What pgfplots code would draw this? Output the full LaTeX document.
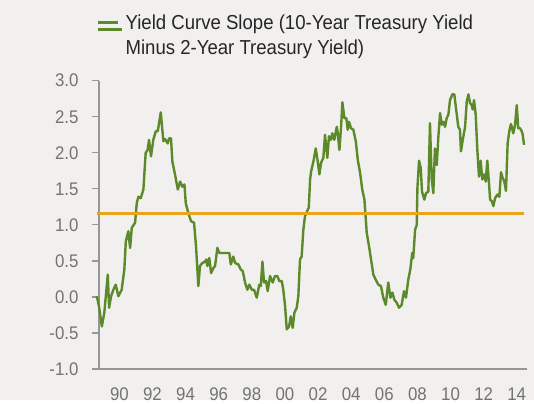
\documentclass[border=0pt]{standalone}
\usepackage{fontspec}
\setmainfont{Liberation Sans}[FakeStretch=0.92]
\usepackage{pgfplots}
\pgfplotsset{compat=1.18}
\definecolor{bg}{RGB}{241,240,238}
\definecolor{grn}{RGB}{92,138,42}
\definecolor{org}{RGB}{233,165,28}
\definecolor{axg}{RGB}{150,150,150}
\definecolor{tkg}{RGB}{115,115,115}
\begin{document}
\begin{tikzpicture}
\fill[bg] (-99pt,-31pt) rectangle (435pt,369pt);
\begin{axis}[
  scale only axis,
  width=428pt, height=288.3pt,
  xmin=1988.77, xmax=2014.62,
  ymin=-1, ymax=3,
  axis x line*=bottom, axis y line*=left,
  axis line style={draw=axg, line width=1.3pt, -},
  xtick={1990,1992,...,2014},
  xticklabels={90,92,94,96,98,00,02,04,06,08,10,12,14},
  ytick={-1,-0.5,...,3},
  x tick style={draw=none},
  y tick style={draw=axg, line width=1.3pt},
  tick align=outside,
  major tick length=7pt,
  /pgf/number format/assume math mode=true,
  /pgf/number format/fixed, /pgf/number format/fixed zerofill, /pgf/number format/precision=1,
  tick label style={font=\fontsize{18.3}{20}\selectfont, text=tkg},
  yticklabel shift=10pt,
  xticklabel style={yshift=-8pt},
  legend style={draw=none, fill=none, inner sep=0pt, at={(-0.0054,1.244)}, anchor=north west,
    font=\fontsize{20.2}{24.5}\selectfont, text=black!85, cells={anchor=base west},
    column sep=0pt},
  legend image code/.code={\path (0pt,0pt) -- (24.3pt,0pt);\draw[#1] (0pt,7pt) -- (19.5pt,7pt);},
  clip=false,
]
\addplot[grn, line width=2.4pt, line join=round] coordinates {
(1988.64,0.01) (1988.77,-0.13) (1988.94,-0.41) (1989.09,-0.22) (1989.30,0.31) (1989.38,-0.15)
(1989.50,0.01) (1989.64,0.10) (1989.78,0.17) (1989.94,0.01) (1990.14,0.10) (1990.30,0.38)
(1990.39,0.77) (1990.54,0.91) (1990.65,0.68) (1990.75,0.96) (1990.95,1.03) (1991.05,1.30)
(1991.15,1.39) (1991.29,1.37) (1991.45,1.49) (1991.59,2.00) (1991.71,2.04) (1991.79,2.18)
(1991.91,1.95) (1992.05,2.18) (1992.20,2.30) (1992.32,2.30) (1992.50,2.56) (1992.66,2.16)
(1992.76,2.19) (1992.92,2.13) (1993.00,2.20) (1993.12,2.20) (1993.20,1.88) (1993.36,1.70)
(1993.53,1.49) (1993.67,1.60) (1993.80,1.53) (1993.93,1.56) (1994.01,1.30) (1994.17,1.16)
(1994.33,1.05) (1994.51,1.03) (1994.63,0.70) (1994.77,0.15) (1994.87,0.43) (1995.01,0.47)
(1995.18,0.49) (1995.24,0.52) (1995.31,0.43) (1995.43,0.54) (1995.54,0.33) (1995.68,0.40)
(1995.78,0.43) (1995.92,0.68) (1996.04,0.61) (1996.24,0.61) (1996.49,0.61) (1996.64,0.61)
(1996.73,0.45) (1996.88,0.56) (1996.99,0.47) (1997.19,0.45) (1997.33,0.38) (1997.45,0.36)
(1997.59,0.20) (1997.73,0.10) (1997.85,0.17) (1998.00,0.10) (1998.13,0.10) (1998.30,-0.01)
(1998.45,0.17) (1998.54,0.15) (1998.64,0.49) (1998.74,0.20) (1998.86,0.22) (1998.96,0.08)
(1999.10,0.29) (1999.26,0.20) (1999.40,0.29) (1999.54,0.29) (1999.66,0.22) (1999.81,0.22)
(1999.90,0.10) (2000.01,-0.13) (2000.11,-0.45) (2000.25,-0.41) (2000.35,-0.27) (2000.47,-0.43)
(2000.57,-0.22) (2000.71,-0.15) (2000.81,0.01) (2000.91,0.52) (2001.01,0.56) (2001.11,0.93)
(2001.21,1.12) (2001.32,1.18) (2001.44,1.24) (2001.52,1.63) (2001.58,1.74) (2001.72,1.88)
(2001.86,2.06) (2001.98,1.88) (2002.08,1.70) (2002.18,1.86) (2002.32,1.93) (2002.42,2.25)
(2002.56,1.93) (2002.66,2.23) (2002.78,2.18) (2002.86,2.27) (2002.98,2.18) (2003.13,2.36)
(2003.19,2.27) (2003.29,2.04) (2003.39,2.36) (2003.47,2.70) (2003.59,2.48) (2003.71,2.48)
(2003.79,2.32) (2003.87,2.43) (2003.99,2.34) (2004.13,2.32) (2004.28,2.16) (2004.40,1.90)
(2004.54,1.72) (2004.67,1.49) (2004.80,1.35) (2004.94,0.89) (2005.08,0.70) (2005.20,0.52)
(2005.34,0.31) (2005.48,0.24) (2005.64,0.17) (2005.80,0.15) (2005.94,-0.01) (2006.09,-0.11)
(2006.24,0.20) (2006.37,-0.01) (2006.49,0.06) (2006.61,-0.04) (2006.75,-0.08) (2006.89,-0.15)
(2007.05,-0.11) (2007.19,0.08) (2007.31,-0.01) (2007.45,0.24) (2007.57,0.38) (2007.69,0.61)
(2007.75,0.54) (2007.86,0.93) (2007.96,1.00) (2008.00,1.51) (2008.10,1.89) (2008.20,1.79)
(2008.28,1.46) (2008.42,1.35) (2008.52,1.44) (2008.66,1.46) (2008.76,2.41) (2008.86,1.65)
(2008.96,1.44) (2009.06,2.06) (2009.17,1.83) (2009.26,2.20) (2009.37,2.55) (2009.47,2.39)
(2009.57,2.43) (2009.67,2.36) (2009.77,2.48) (2009.87,2.53) (2009.97,2.73) (2010.11,2.81)
(2010.23,2.81) (2010.33,2.62) (2010.47,2.36) (2010.57,2.32) (2010.63,2.02) (2010.74,2.18)
(2010.88,2.36) (2010.98,2.71) (2011.08,2.81) (2011.18,2.69) (2011.28,2.66) (2011.34,2.60)
(2011.42,2.73) (2011.52,2.53) (2011.62,2.04) (2011.72,1.67) (2011.82,1.89) (2011.92,1.63)
(2012.02,1.70) (2012.13,1.60) (2012.22,1.89) (2012.33,1.56) (2012.39,1.35) (2012.49,1.33)
(2012.59,1.26) (2012.69,1.37) (2012.83,1.42) (2012.95,1.39) (2013.05,1.73) (2013.15,1.65)
(2013.25,1.60) (2013.35,1.47) (2013.45,2.13) (2013.55,2.30) (2013.65,2.40) (2013.79,2.27)
(2013.90,2.39) (2014.00,2.66) (2014.09,2.34) (2014.20,2.34) (2014.30,2.30) (2014.36,2.25)
(2014.44,2.11)
};
\addlegendentry{\begin{tabular}[t]{@{}l@{}}Yield Curve Slope (10-Year Treasury Yield\\Minus 2-Year Treasury Yield)\end{tabular}}
\addplot[org, line width=2.6pt, forget plot] coordinates {(1988.64,1.16) (2014.44,1.16)};
\end{axis}
\end{tikzpicture}
\end{document}
